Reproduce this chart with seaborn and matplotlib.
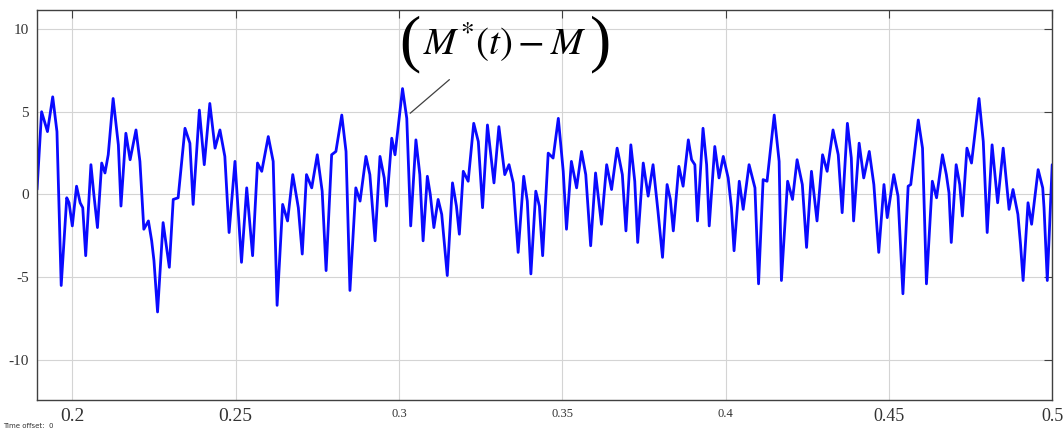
import numpy as np
import pandas as pd
import matplotlib
matplotlib.use("Agg")
import matplotlib.pyplot as plt
import seaborn as sns

# signal keypoints (time in s, value)
t_keys = [
    0.1892, 0.1906, 0.1924, 0.1940, 0.1953, 0.1966, 0.1983, 0.1990, 0.2000, 0.2013,
    0.2024, 0.2032, 0.2041, 0.2057, 0.2066, 0.2077, 0.2090, 0.2100, 0.2110, 0.2125,
    0.2141, 0.2149, 0.2164, 0.2177, 0.2195, 0.2207, 0.2219, 0.2233, 0.2243, 0.2250,
    0.2261, 0.2278, 0.2297, 0.2309, 0.2324, 0.2345, 0.2360, 0.2370, 0.2389, 0.2404,
    0.2421, 0.2437, 0.2452, 0.2467, 0.2480, 0.2498, 0.2518, 0.2534, 0.2552, 0.2567,
    0.2580, 0.2600, 0.2615, 0.2627, 0.2644, 0.2659, 0.2675, 0.2692, 0.2704, 0.2717,
    0.2733, 0.2750, 0.2765, 0.2777, 0.2794, 0.2807, 0.2825, 0.2838, 0.2850, 0.2868,
    0.2881, 0.2899, 0.2911, 0.2927, 0.2942, 0.2955, 0.2962, 0.2978, 0.2988, 0.3011,
    0.3024, 0.3036, 0.3052, 0.3064, 0.3074, 0.3087, 0.3096, 0.3107, 0.3120, 0.3131,
    0.3148, 0.3164, 0.3176, 0.3185, 0.3197, 0.3212, 0.3229, 0.3243, 0.3256, 0.3271,
    0.3291, 0.3306, 0.3324, 0.3337, 0.3350, 0.3365, 0.3382, 0.3393, 0.3404, 0.3419,
    0.3430, 0.3440, 0.3457, 0.3472, 0.3488, 0.3503, 0.3513, 0.3528, 0.3544, 0.3559,
    0.3572, 0.3587, 0.3602, 0.3612, 0.3620, 0.3636, 0.3651, 0.3668, 0.3684, 0.3695,
    0.3710, 0.3722, 0.3731, 0.3748, 0.3763, 0.3778, 0.3793, 0.3807, 0.3821, 0.3831,
    0.3840, 0.3857, 0.3870, 0.3886, 0.3896, 0.3906, 0.3914, 0.3931, 0.3942, 0.3950,
    0.3967, 0.3980, 0.3993, 0.4008, 0.4018, 0.4026, 0.4042, 0.4054, 0.4072, 0.4090,
    0.4101, 0.4115, 0.4127, 0.4149, 0.4164, 0.4171, 0.4190, 0.4205, 0.4219, 0.4235,
    0.4248, 0.4263, 0.4280, 0.4297, 0.4311, 0.4329, 0.4345, 0.4357, 0.4373, 0.4385,
    0.4392, 0.4409, 0.4423, 0.4440, 0.4454, 0.4469, 0.4485, 0.4495, 0.4515, 0.4528,
    0.4543, 0.4559, 0.4567, 0.4590, 0.4603, 0.4615, 0.4633, 0.4646, 0.4664, 0.4676,
    0.4684, 0.4691, 0.4706, 0.4717, 0.4725, 0.4739, 0.4753, 0.4776, 0.4789, 0.4801,
    0.4816, 0.4833, 0.4850, 0.4868, 0.4880, 0.4895, 0.4903, 0.4911, 0.4926, 0.4937,
    0.4957, 0.4971, 0.4975, 0.4985, 0.5000,
]
m_keys = [
    0.3, 5.0, 3.8, 5.9, 3.8, -5.5, -0.2, -0.5, -1.9, 0.5,
    -0.5, -0.8, -3.7, 1.8, 0.0, -2.0, 1.9, 1.3, 2.4, 5.8,
    3.0, -0.7, 3.7, 2.1, 3.9, 2.0, -2.1, -1.6, -2.8, -4.0,
    -7.1, -1.7, -4.4, -0.3, -0.2, 4.0, 3.1, -0.6, 5.1, 1.8,
    5.5, 2.8, 3.9, 2.3, -2.3, 2.0, -4.1, 0.4, -3.7, 1.9,
    1.4, 3.5, 2.0, -6.7, -0.6, -1.6, 1.2, -0.8, -3.6, 1.2,
    0.4, 2.4, 0.2, -4.6, 2.4, 2.6, 4.8, 2.6, -5.8, 0.4,
    -0.4, 2.3, 1.2, -2.8, 2.3, 1.0, -0.7, 3.4, 2.4, 6.4,
    4.6, -1.9, 3.3, 1.2, -2.8, 1.1, 0.0, -2.0, -0.3, -1.2,
    -4.9, 0.7, -0.7, -2.4, 1.4, 0.8, 4.3, 3.2, -0.8, 4.2,
    0.7, 4.1, 1.2, 1.8, 0.7, -3.5, 1.1, -0.4, -4.8, 0.2,
    -0.7, -3.7, 2.5, 2.2, 4.6, 1.4, -2.1, 2.0, 0.4, 2.6,
    1.2, -3.1, 1.3, -0.4, -1.8, 1.8, 0.3, 2.8, 1.2, -2.2,
    3.0, 0.8, -2.9, 1.9, -0.1, 1.8, -1.0, -3.8, 0.6, -0.3,
    -2.2, 1.7, 0.5, 3.3, 2.1, 1.8, -1.6, 4.0, 1.8, -1.9,
    2.9, 1.0, 2.3, 1.0, -0.8, -3.4, 0.8, -0.9, 1.8, 0.4,
    -5.4, 0.9, 0.8, 4.8, 2.0, -5.2, 0.8, -0.3, 2.1, 0.6,
    -3.2, 1.4, -1.6, 2.4, 1.4, 3.9, 2.4, -1.1, 4.3, 2.2,
    -1.6, 3.1, 1.0, 2.6, 0.6, -3.5, 0.6, -1.4, 1.2, -0.1,
    -6.0, 0.5, 0.6, 4.5, 2.8, -5.4, 0.8, -0.2, 2.4, 1.2,
    0.1, -2.9, 1.8, 0.6, -1.3, 2.8, 1.9, 5.8, 3.2, -2.3,
    3.0, -0.5, 2.8, -0.9, 0.3, -1.2, -3.0, -5.2, -0.5, -1.8,
    1.5, 0.4, -0.8, -5.2, 1.8,
]

x_ticks = [0.2, 0.25, 0.3, 0.35, 0.4, 0.45, 0.5]
x_tick_labels = ["0.2", "0.25", "0.3", "0.35", "0.4", "0.45", "0.5"]
x_tick_sizes = [14, 14, 9, 9, 9, 13, 13]
y_ticks = [-10, -5, 0, 5, 10]
y_tick_labels = ["-10", "-5", "0", "5", "10"]

label_body = r"$M^{*}(t)-M$"

df = pd.DataFrame({"t": t_keys, "m": m_keys})

sns.set_style("white")
plt.rcParams["font.family"] = ["Liberation Serif", "DejaVu Serif"]
plt.rcParams["mathtext.fontset"] = "stix"

fig = plt.figure(figsize=(10.64, 4.32), dpi=100)
ax = fig.add_axes([0.0348, 0.0741, 0.9541, 0.9028])

sns.lineplot(data=df, x="t", y="m", ax=ax, color="#0a0aff", linewidth=2.0,
             estimator=None, sort=False)

ax.set_xlim(0.1892, 0.5)
ax.set_ylim(-12.42, 11.15)
ax.set_xticks(x_ticks)
ax.set_xticklabels(x_tick_labels)
for lab, sz in zip(ax.get_xticklabels(), x_tick_sizes):
    lab.set_fontsize(sz)
ax.set_yticks(y_ticks)
ax.set_yticklabels(y_tick_labels, fontsize=11)
ax.set_xlabel("")
ax.set_ylabel("")

ax.grid(True, color="#d4d4d4", linewidth=0.8)
ax.set_axisbelow(True)
for s in ax.spines.values():
    s.set_color("#404040")
    s.set_linewidth(1.0)
ax.tick_params(direction="in", length=6, width=0.8, color="#404040",
               top=True, right=True, labelcolor="#333333", pad=6)

# label with tall brackets and leader line
ax.annotate("", xy=(0.3028, 4.8), xytext=(0.3161, 7.05),
            arrowprops=dict(arrowstyle="-", color="#404040", lw=0.9))
ax.text(0.3324, 9.2, label_body, fontsize=28, ha="center", va="center",
        color="black")
ax.text(0.3034, 9.05, "(", fontsize=46, ha="center", va="center",
        color="black")
ax.text(0.3618, 9.05, ")", fontsize=46, ha="center", va="center",
        color="black")

fig.text(0.003, 0.008, "Time offset:  0", fontsize=5, family="DejaVu Sans",
         color="#333333", ha="left", va="bottom")

fig.savefig("out.png", dpi=100, facecolor="white")
